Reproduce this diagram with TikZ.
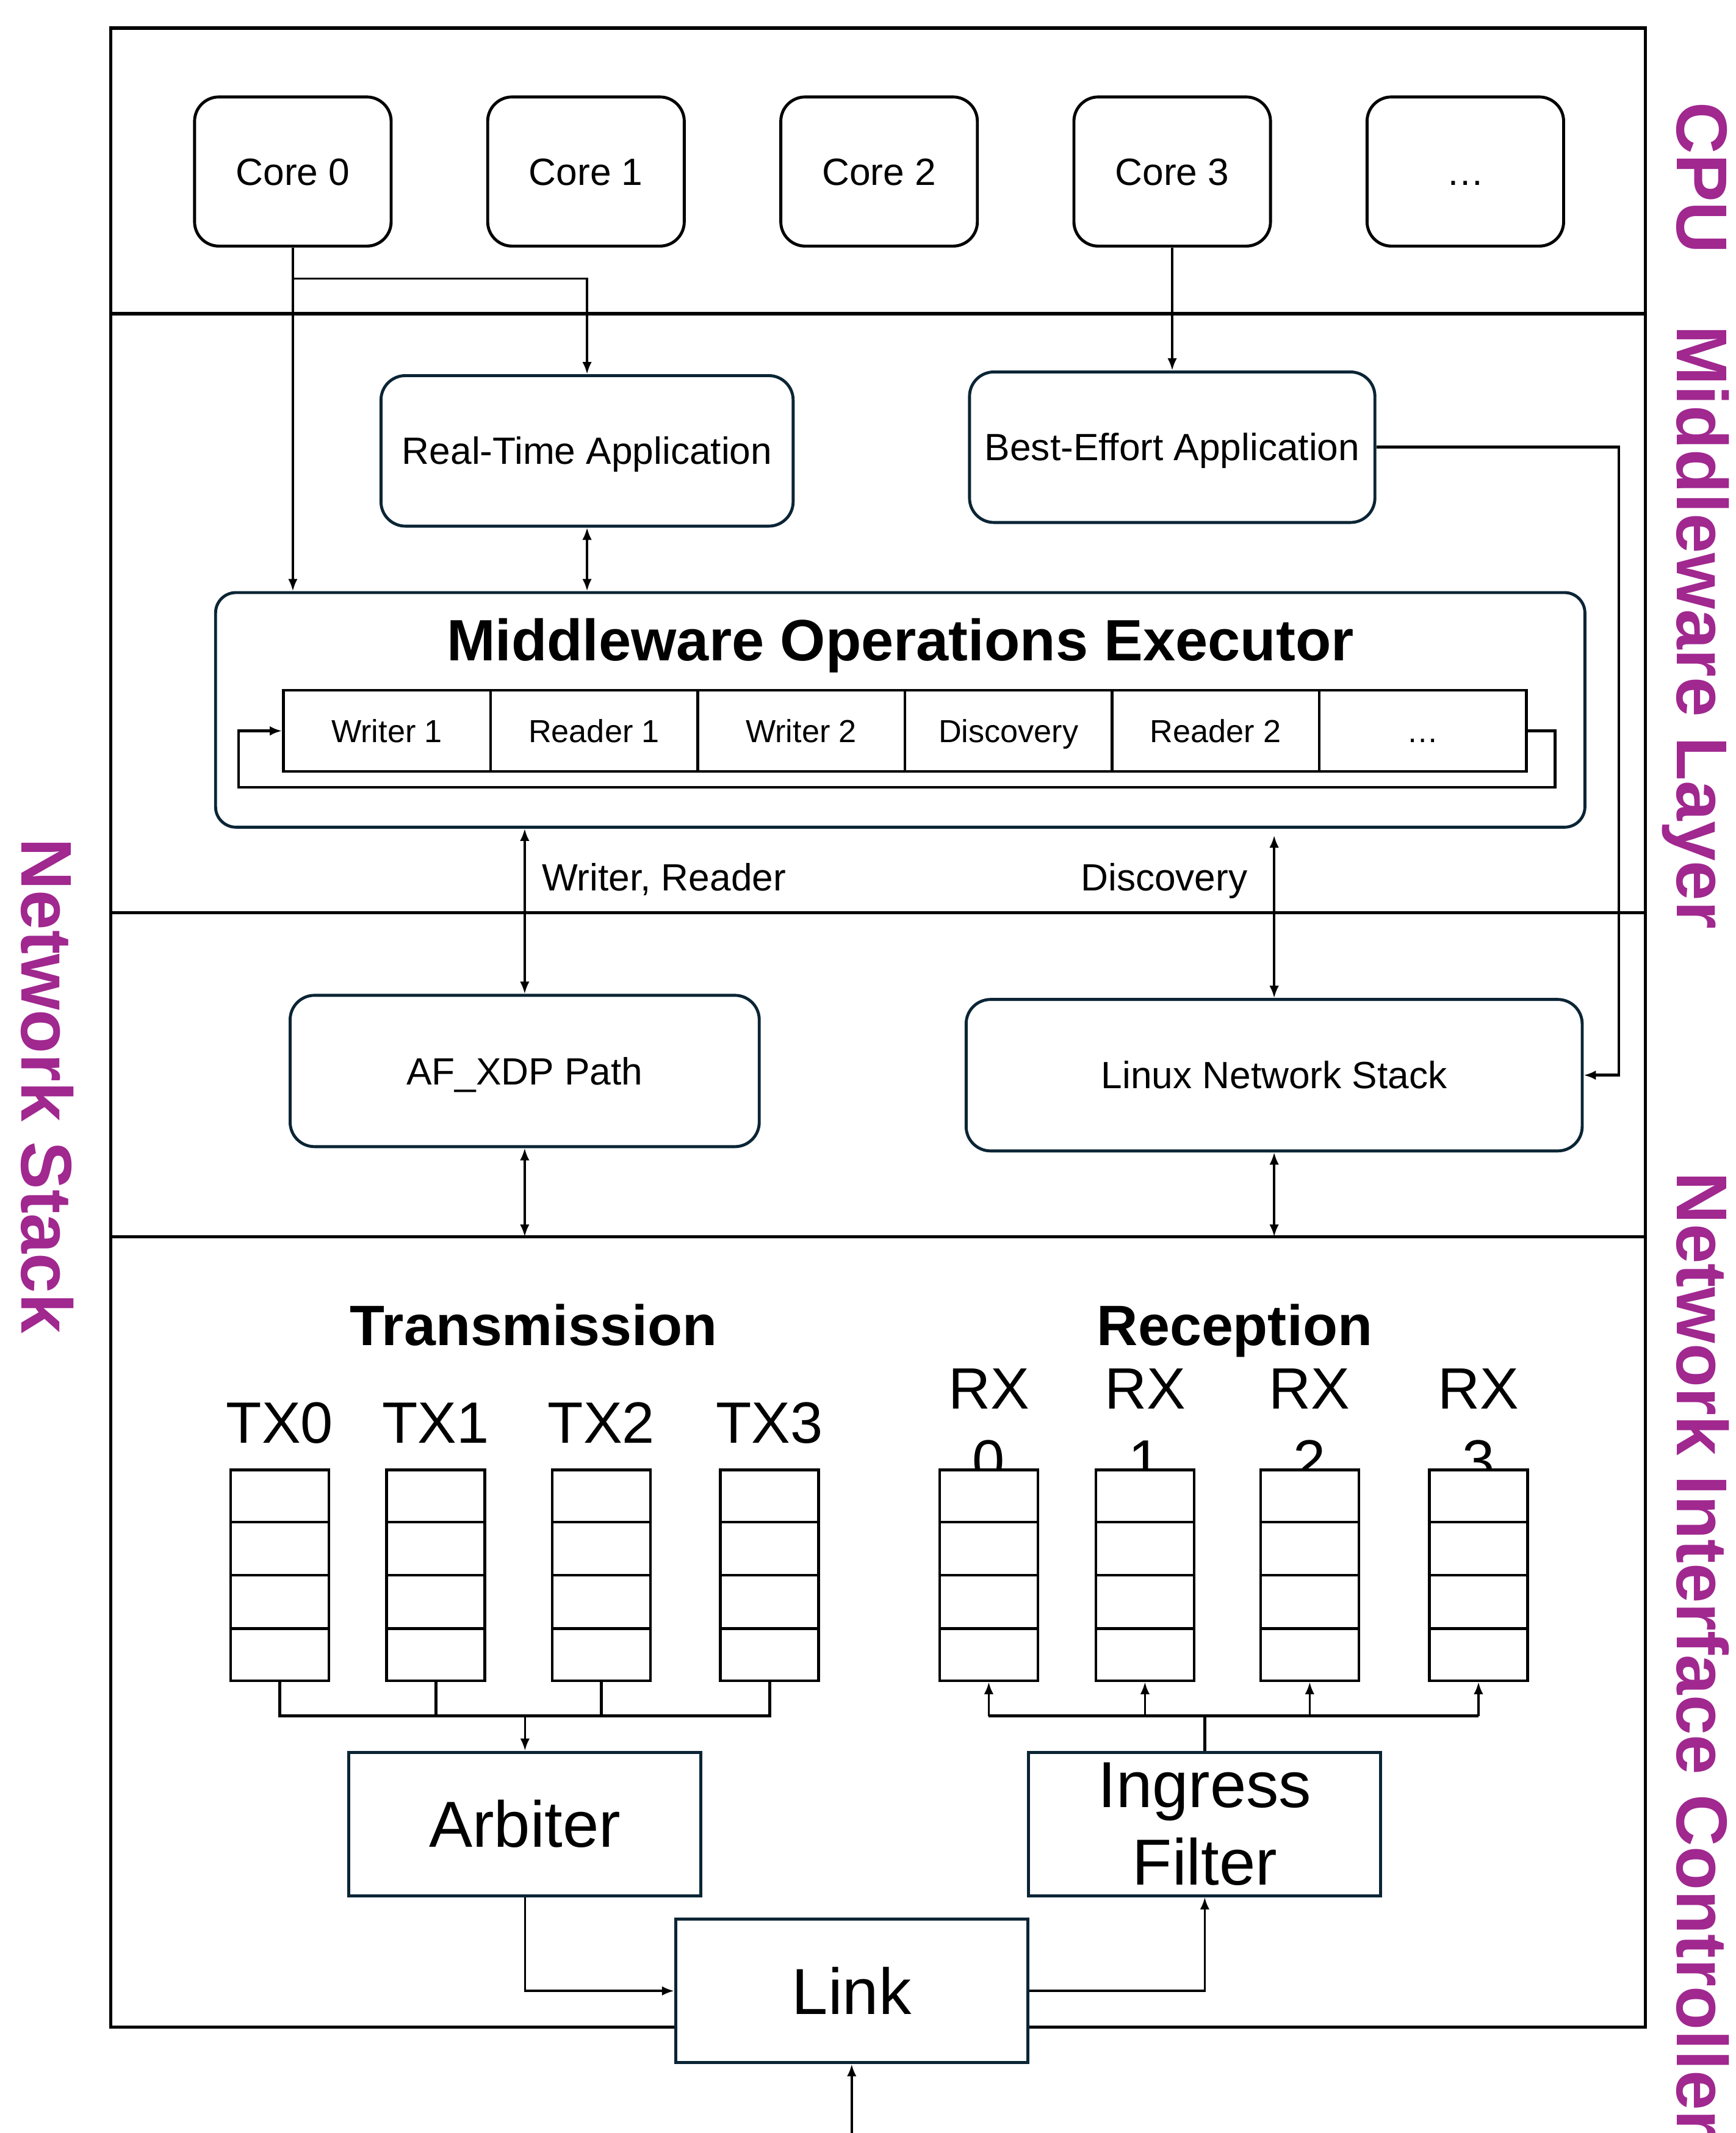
\documentclass[tikz,border=0pt]{standalone}
\usepackage{fontspec}
\setmainfont{Liberation Sans}
\usetikzlibrary{arrows.meta,calc}
\definecolor{navy}{HTML}{0B2535}
\definecolor{lab}{HTML}{A0288F}
\begin{document}
\begin{tikzpicture}[x=1pt,y=-1pt,
  fr/.style={line width=2.5pt},
  corebox/.style={draw=black, line width=2.2pt, rounded corners=18pt, fill=white, inner sep=0pt, minimum width=145pt, minimum height=110pt, text height=20pt, text depth=0pt, font=\fontsize{28}{34}\selectfont},
  appbox/.style={draw=navy, line width=2.2pt, rounded corners=18pt, fill=white, inner sep=0pt, text height=20pt, text depth=0pt, font=\fontsize{28}{34}\selectfont},
  cell/.style={draw=black, line width=2pt, inner sep=0pt, minimum width=152.8pt, minimum height=60pt, text height=16.8pt, text depth=0pt, font=\fontsize{23.5}{28}\selectfont},
  hwbox/.style={draw=navy, line width=2.2pt, fill=white, inner sep=0pt, minimum width=259.7pt, minimum height=105.8pt, font=\fontsize{48}{57}\selectfont},
  queue/.style={draw=black, line width=2pt, fill=white, inner sep=0pt, minimum width=72.5pt, minimum height=155.4pt},
  qlab/.style={font=\fontsize{43}{52}\selectfont, inner sep=0pt, anchor=base},
  side/.style={rotate=-90, anchor=base west, inner sep=0pt, text=lab, font=\fontsize{53}{60}\selectfont\bfseries},
  lbl/.style={anchor=base west, inner sep=0pt, font=\fontsize{28}{34}\selectfont},
  arr/.style={line width=1.6pt, -{Latex[length=9pt,width=7pt]}},
  darr/.style={line width=1.6pt, {Latex[length=9pt,width=7pt]}-{Latex[length=9pt,width=7pt]}},
  wire/.style={line width=2.2pt},
]
\useasboundingbox (0,0) rectangle (1280,1573);

% outer frame and layer dividers
\draw[fr] (81.6,20.7) rectangle (1213.5,1494.8);
\draw[fr] (81.6,231.4) -- (1213.5,231.4);
\draw[fr] (81.6,673) -- (1213.5,673);
\draw[fr] (81.6,912) -- (1213.5,912);
\coordinate (d3) at (0,912);

% side labels
\node[side] (lcpu) at (1236.8,75) {CPU};
\node[side] (lmw) at (1236.8,240) {Middleware Layer};
\node[side] (lnic) at (1236.8,864) {Network Interface Controller};
\node[side] (lns) at (16,618) {Network Stack};

% CPU cores
\node[corebox] (c0) at (216,126.5) {Core 0};
\node[corebox] (c1) at (432.2,126.5) {Core 1};
\node[corebox] (c2) at (648.4,126.5) {Core 2};
\node[corebox] (c3) at (864.6,126.5) {Core 3};
\node[corebox] (c4) at (1080.8,126.5) {…};

% applications
\node[appbox, minimum width=304pt, minimum height=111pt] (rt) at (433,332.5) {Real-Time Application};
\node[appbox, minimum width=299pt, minimum height=111pt] (be) at (864.6,329.8) {Best-Effort Application};

% executor
\node[draw=navy, line width=2.2pt, rounded corners=15pt, inner sep=0pt, minimum width=1010pt, minimum height=173pt] (exec) at (664,523.5) {};
\node[anchor=base, inner sep=0pt, font=\fontsize{43}{50}\selectfont\bfseries] (title) at (664,487) {Middleware Operations Executor};
\node[cell] (k1) at (285.4,539) {Writer 1};
\node[cell] (k2) at (438.2,539) {Reader 1};
\node[cell] (k3) at (591,539) {Writer 2};
\node[cell] (k4) at (743.8,539) {Discovery};
\node[cell] (k5) at (896.6,539) {Reader 2};
\node[cell] (k6) at (1049.4,539) {…};
\draw[wire, -{Latex[length=9pt,width=7pt]}] (k6.east) -- (1147,539) -- (1147,580.6) -- (176,580.6) -- (176,539) -- (k1.west);

% network stack
\node[appbox, minimum width=346pt, minimum height=111.6pt] (xdp) at (387,789.8) {AF\_XDP Path};
\node[appbox, minimum width=454.4pt, minimum height=111.7pt] (linux) at (939.8,792.9) {Linux Network Stack};
\node[lbl] (lwr) at (399.5,657) {Writer, Reader};
\node[lbl] (ldisc) at (797,657) {Discovery};

% CPU / middleware connectors
\coordinate (j0) at (216,205.5);
\draw[arr] (c0.south) -- (c0.south |- exec.north);
\draw[arr] (j0) -| (rt.north);
\draw[arr] (c3.south) -- (be.north);
\draw[darr] (rt.south) -- (rt.south |- exec.north);
\coordinate (bend) at (1194,0);
\draw[wire, -{Latex[length=9pt,width=7pt]}] (be.east) -| (bend |- linux.east) -- (linux.east);
\draw[darr] (exec.south -| xdp.north) -- (xdp.north);
\draw[darr] ([yshift=-5pt]exec.south -| linux.north) -- (linux.north);
\draw[darr] (xdp.south) -- (xdp.south |- d3);
\draw[darr] (linux.south) -- (linux.south |- d3);

% NIC
\node[anchor=base, inner sep=0pt, font=\fontsize{42}{50}\selectfont\bfseries] (ttx) at (393.7,992) {Transmission};
\node[anchor=base, inner sep=0pt, font=\fontsize{42}{50}\selectfont\bfseries] (trx) at (910.7,992) {Reception};

\foreach \i/\x in {0/206.3,1/321.4,2/443.5,3/567.6}{
  \node[qlab] (tl\i) at (\x,1064) {TX\i};
  \node[queue] (tq\i) at (\x,1161.7) {};
  \foreach \k in {1,2,3}
    \draw[line width=2pt] ($(tq\i.north west)!\k/4!(tq\i.south west)$) -- ($(tq\i.north east)!\k/4!(tq\i.south east)$);
}
\foreach \i/\x in {0/729.3,1/844.5,2/966,3/1090.5}{
  \node[qlab] (rla\i) at (\x,1039) {RX};
  \node[qlab] (rlb\i) at (\x,1092) {\i};
  \node[queue] (rq\i) at (\x,1161.7) {};
  \foreach \k in {1,2,3}
    \draw[line width=2pt] ($(rq\i.north west)!\k/4!(rq\i.south west)$) -- ($(rq\i.north east)!\k/4!(rq\i.south east)$);
}

\node[hwbox] (arb) at (387.2,1345.1) {Arbiter};
\node[hwbox, align=center] (ing) at (888.6,1345.1) {Ingress\\Filter};
\node[hwbox] (link) at (628.2,1468.2) {Link};

\coordinate (tm) at (387.2,1265.4);
\draw[wire] (tq0.south) |- (tq3.south |- tm) -- (tq3.south);
\draw[wire] (tq1.south) -- (tq1.south |- tm);
\draw[wire] (tq2.south) -- (tq2.south |- tm);
\draw[arr] (tm -| arb.north) -- (arb.north);

\draw[wire] (ing.north) -- (ing.north |- tm);
\draw[wire] (rq0.south |- tm) -- (rq3.south |- tm);
\foreach \i in {0,...,3} \draw[arr] (rq\i.south |- tm) -- (rq\i.south);

\draw[arr] (arb.south) |- (link.west);
\draw[arr] (link.east) -| (ing.south);
\coordinate (bot) at (628.2,1573);
\draw[arr] (bot) -- (link.south);
\end{tikzpicture}
\end{document}
